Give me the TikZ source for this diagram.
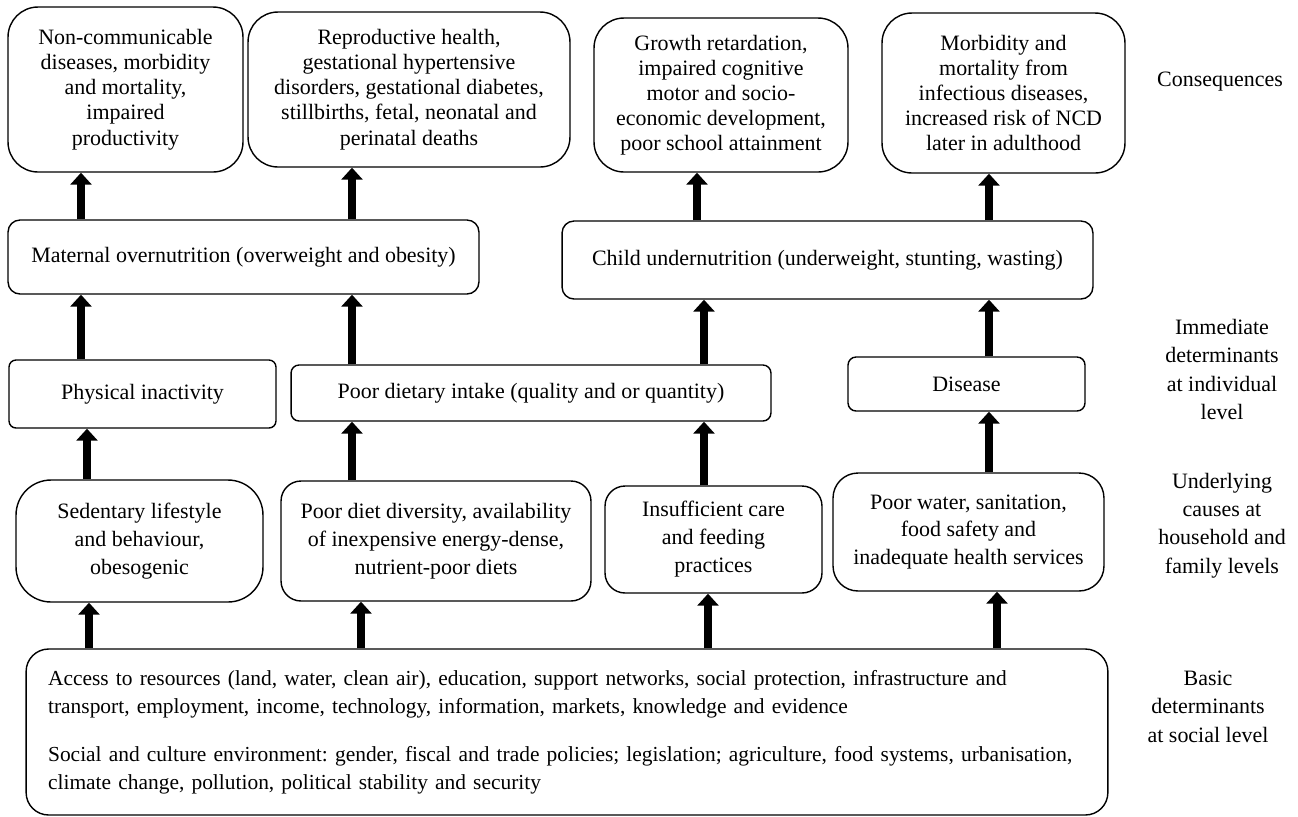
\documentclass[tikz,border=0pt]{standalone}
\usepackage{fontspec}
\setmainfont{Liberation Serif}
\frenchspacing
\usetikzlibrary{positioning,arrows.meta}

\tikzset{
  box/.style={draw, line width=0.8pt, align=center, inner sep=0pt,
    font=\fontsize{12.5}{15.9}\selectfont},
  topbox/.style={box, rounded corners=0.6cm, font=\fontsize{12.5}{14.3}\selectfont},
  up/.style={line width=5pt, -{Triangle[width=0.42cm,length=0.24cm]}},
  lvl/.style={align=center, font=\fontsize{12.5}{16.2}\selectfont},
}

\begin{document}
\begin{tikzpicture}[x=0.02cm, y=-0.02cm]
  \useasboundingbox (0,0) rectangle (1298,816);

  % consequences
  \node[topbox, minimum width=4.70cm, minimum height=3.30cm] (ncd) at (125.5,89.5)
    {Non-communicable\\diseases, morbidity\\and mortality,\\impaired\\productivity};
  \node[topbox, minimum width=6.44cm, minimum height=3.10cm] (repro) at (409,89.5)
    {Reproductive health,\\gestational hypertensive\\disorders, gestational diabetes,\\stillbirths, fetal, neonatal and\\perinatal deaths};
  \node[topbox, minimum width=5.08cm, minimum height=3.08cm] (growth) at (721,95)
    {Growth retardation,\\impaired cognitive\\motor and socio-\\economic development,\\poor school attainment};
  \node[topbox, minimum width=4.86cm, minimum height=3.20cm] (morb) at (1003.5,93)
    {Morbidity and\\mortality from\\infectious diseases,\\increased risk of NCD\\later in adulthood};

  % nutrition status
  \node[box, rounded corners=0.24cm, minimum width=9.42cm, minimum height=1.48cm] (maternal) at (243.5,257)
    {Maternal overnutrition (overweight and obesity)};
  \node[box, rounded corners=0.24cm, minimum width=10.62cm, minimum height=1.56cm] (child) at (827.5,260)
    {Child undernutrition (underweight, stunting, wasting)};

  % immediate determinants
  \node[box, rounded corners=0.14cm, minimum width=5.34cm, minimum height=1.36cm] (phys) at (142.5,394)
    {Physical inactivity};
  \node[box, rounded corners=0.16cm, minimum width=9.60cm, minimum height=1.12cm] (diet) at (531,393)
    {Poor dietary intake (quality and or quantity)};
  \node[box, rounded corners=0.16cm, minimum width=4.74cm, minimum height=1.08cm] (disease) at (966.5,384)
    {Disease};

  % underlying causes
  \node[box, rounded corners=0.7cm, minimum width=4.94cm, minimum height=2.44cm] (sed) at (139.5,541)
    {Sedentary lifestyle\\and behaviour,\\obesogenic};
  \node[box, rounded corners=0.4cm, minimum width=6.20cm, minimum height=2.40cm] (pdd) at (436,541)
    {Poor diet diversity, availability\\of inexpensive energy-dense,\\nutrient-poor diets};
  \node[box, rounded corners=0.4cm, minimum width=4.34cm, minimum height=2.14cm] (care) at (713.5,539.5)
    {Insufficient care\\and feeding\\practices};
  \node[box, rounded corners=0.5cm, minimum width=5.42cm, minimum height=2.36cm] (water) at (968.5,532)
    {Poor water, sanitation,\\food safety and\\inadequate health services};

  % basic determinants
  \node[box, rounded corners=0.45cm, align=left, text width=20.76cm, inner xsep=0.44cm,
    minimum height=3.32cm, font=\fontsize{12.2}{16}\selectfont] (basic) at (567,732)
    {Access to resources (land, water, clean air), education, support networks, social protection, infrastructure and\\
     transport, employment, income, technology, information, markets, knowledge and evidence\\[0.4cm]
     Social and culture environment: gender, fiscal and trade policies; legislation; agriculture, food systems, urbanisation,\\
     climate change, pollution, political stability and security};

  % level labels
  \node[lvl] (lcons) at (1220,82) {Consequences};
  \node[lvl] (limm) at (1222,369.5) {Immediate\\determinants\\at individual\\level};
  \node[lvl] (lund) at (1222,525.5) {Underlying\\causes at\\household and\\family levels};
  \node[lvl] (lbas) at (1208,706.5) {Basic\\determinants\\at social level};

  % arrow columns
  \coordinate (k1) at (81,0);
  \coordinate (k2) at (352,0);
  \coordinate (k3) at (697,0);
  \coordinate (k3b) at (704,0);
  \coordinate (k4) at (989,0);
  \coordinate (m1) at (87,0);
  \coordinate (m1b) at (89,0);
  \coordinate (m2) at (361,0);
  \coordinate (m3) at (708,0);
  \coordinate (m4) at (997,0);

  \draw[up] (maternal.north -| k1) -- (ncd.south -| k1);
  \draw[up] (maternal.north -| k2) -- (repro.south -| k2);
  \draw[up] (child.north -| k3) -- (growth.south -| k3);
  \draw[up] (child.north -| k4) -- (morb.south -| k4);

  \draw[up] (phys.north -| k1) -- (maternal.south -| k1);
  \draw[up] (diet.north -| k2) -- (maternal.south -| k2);
  \draw[up] (diet.north -| k3b) -- (child.south -| k3b);
  \draw[up] (disease.north -| k4) -- (child.south -| k4);

  \draw[up] (sed.north -| m1) -- (phys.south -| m1);
  \draw[up] (pdd.north -| k2) -- (diet.south -| k2);
  \draw[up] (care.north -| k3b) -- (diet.south -| k3b);
  \draw[up] (water.north -| k4) -- (disease.south -| k4);

  \draw[up] (basic.north -| m1b) -- (sed.south -| m1b);
  \draw[up] (basic.north -| m2) -- (pdd.south -| m2);
  \draw[up] (basic.north -| m3) -- (care.south -| m3);
  \draw[up] (basic.north -| m4) -- (water.south -| m4);
\end{tikzpicture}
\end{document}
